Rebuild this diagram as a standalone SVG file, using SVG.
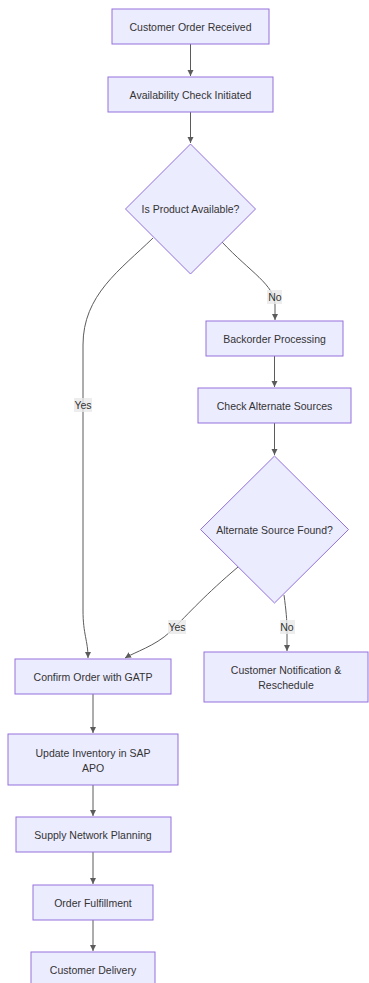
<svg xmlns="http://www.w3.org/2000/svg" width="369" height="983" viewBox="0 0 369 983">
<defs>
<marker id="arr" markerWidth="8" markerHeight="8" refX="6" refY="4" orient="auto" markerUnits="userSpaceOnUse">
<path d="M0,1 L6,4 L0,7 Z" fill="#333333"/>
</marker>
<style>
.n{fill:#ECECFF;stroke:#9370DB;stroke-width:1}
.t{font-family:"Liberation Sans","DejaVu Sans",sans-serif;font-size:10.5px;fill:#333333;text-anchor:middle;dominant-baseline:central}
.e{fill:none;stroke:#333333;stroke-width:1;opacity:0.8;marker-end:url(#arr)}
.lb{fill:#E8E8E8;opacity:0.8}
</style>
</defs>
<rect width="369" height="983" fill="#ffffff"/>
<g id="edges">
<path class="e" d="M190.5,44 L190.5,76"/>
<path class="e" d="M190.5,112 L190.5,143"/>
<path class="e" d="M153,238 C120,270 83,295 83,345 L83,610 C83,635 88,640 88,658"/>
<path class="e" d="M222,242 C250,272 275,285 275,305 L275,320"/>
<path class="e" d="M274.5,356 L274.5,387"/>
<path class="e" d="M274.5,423 L274.5,455"/>
<path class="e" d="M238,567 C205,595 190,612 170,632 C155,646 135,652 125,658"/>
<path class="e" d="M284,595 C286,610 287,620 287,630 L287,651"/>
<path class="e" d="M93,694 L93,733"/>
<path class="e" d="M93,785 L93,816"/>
<path class="e" d="M93,852 L93,884"/>
<path class="e" d="M93,920 L93,951"/>
<g id="edge-labels">
<rect class="lb" x="74" y="398" width="18" height="14"/>
<text class="t" x="83" y="405">Yes</text>
<rect class="lb" x="267" y="290" width="15" height="14"/>
<text class="t" x="275" y="297">No</text>
<rect class="lb" x="168" y="620" width="18" height="14"/>
<text class="t" x="177" y="627">Yes</text>
<rect class="lb" x="280" y="620" width="15" height="14"/>
<text class="t" x="287" y="627">No</text>
</g>
</g>
<g id="n1"><rect class="n" x="112" y="9" width="157" height="35"/><text class="t" x="190.5" y="26.5">Customer Order Received</text></g>
<g id="n2"><rect class="n" x="108" y="77" width="165" height="35"/><text class="t" x="190.5" y="94.5">Availability Check Initiated</text></g>
<g id="n3"><polygon class="n" points="190.5,144 255.5,209 190.5,274 125.5,209"/><text class="t" x="190.5" y="209">Is Product Available?</text></g>
<g id="n4"><rect class="n" x="206" y="321" width="137" height="35"/><text class="t" x="274.5" y="338.5">Backorder Processing</text></g>
<g id="n5"><rect class="n" x="198" y="388" width="153" height="35"/><text class="t" x="274.5" y="405.5">Check Alternate Sources</text></g>
<g id="n6"><polygon class="n" points="274.5,456 348.5,529.5 274.5,603 200.5,529.5"/><text class="t" x="274.5" y="529.5">Alternate Source Found?</text></g>
<g id="n7"><rect class="n" x="15" y="659" width="156" height="35"/><text class="t" x="93" y="676.5">Confirm Order with GATP</text></g>
<g id="n8"><rect class="n" x="204" y="652" width="164" height="50"/><text class="t" x="286" y="670">Customer Notification &amp;</text><text class="t" x="286" y="685">Reschedule</text></g>
<g id="n9"><rect class="n" x="8" y="734" width="170" height="51"/><text class="t" x="93" y="752.5">Update Inventory in SAP</text><text class="t" x="93" y="767.5">APO</text></g>
<g id="n10"><rect class="n" x="16" y="817" width="155" height="35"/><text class="t" x="93" y="834.5">Supply Network Planning</text></g>
<g id="n11"><rect class="n" x="33" y="885" width="120" height="35"/><text class="t" x="93" y="902.5">Order Fulfillment</text></g>
<g id="n12"><rect class="n" x="31" y="952" width="124" height="35"/><text class="t" x="93" y="969.5">Customer Delivery</text></g>
</svg>
